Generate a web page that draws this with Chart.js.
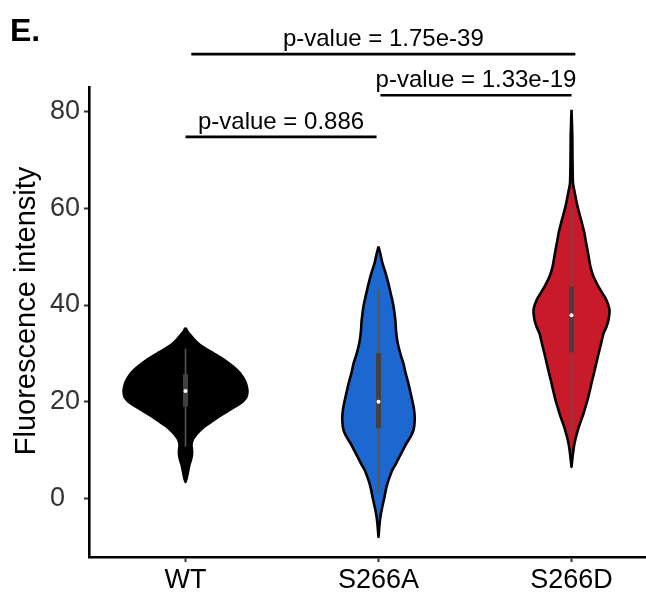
<!DOCTYPE html>
<html><head><meta charset="utf-8">
<script src="https://cdn.jsdelivr.net/npm/chart.js@4"></script>
<style>html,body{margin:0;padding:0;background:#fff}canvas{display:block}</style>
</head><body>
<canvas id="c" width="646" height="599"></canvas>
<script>
// ---------- data ----------
const CATEGORIES = ['WT', 'S266A', 'S266D'];
const Y_TICKS = [0, 20, 40, 60, 80];
const Y_TITLE = 'Fluorescence intensity';

// violin density profiles (value levels, relative density)
const WT_LEVELS  = [35.3,34.5,34,33,32,31,30,29,28,27,26,25,24,23,22,21,20,19,18,17,16,15,14,13,12,11,10,9,8,7,6,5,4,3.4];
const WT_DENSITY = [0,2,4,8,13,20,28,36,43,49,54,57.5,60,61.5,62,61,57,50,42,34,27,20,14.5,10,7,6,6.5,6.5,5.5,4,3,2,1,0];

const S266A_LEVELS  = [52.1,50.5,48.6,47,45.2,43.5,41.7,40,38.3,36.5,34.8,33,31.4,29.5,27.9,26,24.5,22.8,21,19.3,17.6,15.9,14.1,12.7,11.4,10,8.6,7.2,5.9,4.5,3.1,1.7,0.3,-1.4,-3.1,-5,-6.5,-8.0];
const S266A_DENSITY = [0,2,4,6.5,9,11,13,14.8,16,17,17.5,18.5,20,22.5,25,27,29,31,33,34.8,36,36.2,35,32,28,24.5,21,17.5,14,11.3,9,7.3,6,4.2,2.5,1.2,0.6,0];

const S266D_LEVELS  = [80.4,75,70,65.2,63.5,61.7,60,58.3,56.5,54.8,53,51.4,49.6,47.9,45.9,43.8,42.4,41,39,36.9,35.5,34.1,32.4,30.7,29,27.2,25.5,23.8,22,20.3,18.6,16.9,15.2,13.5,11.4,9.3,6.5];
const S266D_DENSITY = [0,0.8,1,1.5,3,4.7,6.5,8.7,11,13,14.5,16,17.5,19,22,27,31,35,38,37,35,32,30,28,26,24,22,20,18,16,13.5,11,8,5.5,3,1.5,0];

// box statistics: [lower whisker, Q1, median, Q3, upper whisker]
const WT_BOX    = [10.7, 19.0, 22.2, 25.7, 31.0];
const S266A_BOX = [1.0, 14.5, 20.0, 30.0, 43.1];
const S266D_BOX = [13.4, 30.2, 37.9, 43.8, 60.3];

// significance brackets
const BRACKET_LABELS = ['p-value = 1.75e-39', 'p-value = 1.33e-19', 'p-value = 0.886'];
const BRACKET_FROM   = [1.03, 2.01, 1.0];
const BRACKET_TO     = [3.02, 3.0, 1.99];
const BRACKET_Y      = [91.9, 83.4, 74.8];

// ---------- styling ----------
const FONT = '"Liberation Sans", Arial, Helvetica, sans-serif';
const COLORS = ['#000000', '#1C68D0', '#C91A2C'];
const DENSITY_TO_X = 1 / 193.15;

const levelsAll = [WT_LEVELS, S266A_LEVELS, S266D_LEVELS];
const densAll = [WT_DENSITY, S266A_DENSITY, S266D_DENSITY];
const boxAll = [WT_BOX, S266A_BOX, S266D_BOX];

function violinPoints(ci, levels, dens) {
  const right = levels.map((v, i) => ({x: ci + dens[i] * DENSITY_TO_X, y: v}));
  const left = levels.map((v, i) => ({x: ci - dens[i] * DENSITY_TO_X, y: v})).reverse();
  const pts = right.concat(left);
  pts.push(pts[0]);
  return pts;
}

const datasets = [];
CATEGORIES.forEach((c, i) => {
  const ci = i + 1;
  datasets.push({
    label: c + ' violin', data: violinPoints(ci, levelsAll[i], densAll[i]),
    showLine: true, fill: 'shape', backgroundColor: COLORS[i],
    borderColor: '#000', borderWidth: 2.6, borderJoinStyle: 'round', pointRadius: 0, pointHoverRadius: 0, pointHitRadius: 0, tension: 0.25, order: 10
  });
  const b = boxAll[i];
  datasets.push({
    label: c + ' whisker', data: [{x: ci, y: b[0]}, {x: ci, y: b[4]}],
    showLine: true, borderColor: '#555555', borderWidth: 1.6, pointRadius: 0, pointHoverRadius: 0, pointHitRadius: 0, order: 5
  });
  datasets.push({
    label: c + ' box', data: [{x: ci, y: b[1]}, {x: ci, y: b[3]}],
    showLine: true, borderColor: '#414141', borderWidth: 5, borderCapStyle: 'butt', pointRadius: 0, pointHoverRadius: 0, pointHitRadius: 0, order: 4
  });
  datasets.push({
    label: c + ' median', data: [{x: ci, y: b[2]}],
    showLine: false, pointRadius: 2, pointBackgroundColor: '#ffffff', pointBorderWidth: 0, pointHoverRadius: 2, pointHitRadius: 0, order: 1
  });
});
BRACKET_LABELS.forEach((l, i) => {
  datasets.push({
    label: l, data: [{x: BRACKET_FROM[i], y: BRACKET_Y[i]}, {x: BRACKET_TO[i], y: BRACKET_Y[i]}],
    showLine: true, borderColor: '#000', borderWidth: 2.7, pointRadius: 0, pointHoverRadius: 0, pointHitRadius: 0, clip: false, order: 0
  });
});

const annotations = {
  id: 'annotations',
  afterDraw(chart) {
    const {ctx, scales: {x, y}, chartArea} = chart;
    ctx.save();
    ctx.fillStyle = '#000';
    ctx.textAlign = 'center';
    ctx.textBaseline = 'alphabetic';
    ctx.font = '24px ' + FONT;
    BRACKET_LABELS.forEach((l, i) => {
      const cx = x.getPixelForValue((BRACKET_FROM[i] + BRACKET_TO[i]) / 2);
      const py = y.getPixelForValue(BRACKET_Y[i]);
      ctx.fillText(l, cx, py - 8);
    });
    // y-axis title
    ctx.save();
    ctx.translate(27, (chartArea.top + chartArea.bottom) / 2 - 11);
    ctx.rotate(-Math.PI / 2);
    ctx.textBaseline = 'middle';
    ctx.font = '29px ' + FONT;
    ctx.fillText(Y_TITLE, 0, 0);
    ctx.restore();
    // panel tag
    ctx.textAlign = 'left';
    ctx.font = 'bold 32px ' + FONT;
    ctx.fillText('E.', 10, 41);
    ctx.restore();
  }
};

new Chart(document.getElementById('c'), {
  type: 'scatter',
  data: {datasets},
  options: {
    responsive: false, animation: false,
    layout: {autoPadding: false, padding: {top: 87, left: 0, right: 0, bottom: 0}},
    plugins: {legend: {display: false}, tooltip: {enabled: false}},
    scales: {
      x: {
        type: 'linear', min: 0.5, max: 3.386,
        afterBuildTicks: s => { s.ticks = CATEGORIES.map((c, i) => ({value: i + 1})); },
        afterFit: s => { s.height = 42; },
        ticks: {callback: (v, i) => CATEGORIES[i], color: '#000', font: {family: FONT, size: 27}, padding: 2, maxRotation: 0, autoSkip: false},
        grid: {display: true, drawOnChartArea: false, drawTicks: true, tickLength: 5, tickColor: '#333', tickWidth: 2},
        border: {display: true, color: '#000', width: 2.6}
      },
      y: {
        type: 'linear', min: -12.14, max: 85.11,
        afterBuildTicks: s => { s.ticks = Y_TICKS.map(v => ({value: v})); },
        afterFit: s => { s.width = 89; },
        ticks: {callback: v => (v === 0 ? '0  ' : String(v)), color: '#333', font: {family: FONT, size: 27}, padding: 4},
        grid: {display: true, drawOnChartArea: false, drawTicks: true, tickLength: 5, tickColor: '#333', tickWidth: 2},
        border: {display: true, color: '#000', width: 2.6}
      }
    }
  },
  plugins: [annotations]
});
</script>
</body></html>
